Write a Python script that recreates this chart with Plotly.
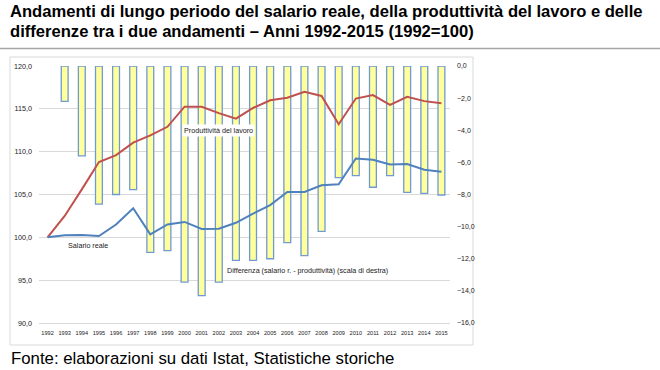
import plotly.graph_objects as go

years = [str(y) for y in range(1992, 2016)]
salario_reale = [100.0, 100.23, 100.27, 100.15, 101.5, 103.4, 100.35, 101.5, 101.8, 100.97,
                 101.0, 101.7, 102.77, 103.77, 105.3, 105.3, 106.07, 106.2, 109.2, 109.05,
                 108.5, 108.55, 107.9, 107.65]
produttivita = [100.0, 102.5, 105.6, 108.8, 109.6, 111.05, 111.9, 112.9, 115.25, 115.25,
                114.5, 113.85, 115.1, 116.0, 116.3, 117.0, 116.5, 113.2, 116.2, 116.6,
                115.45, 116.4, 115.9, 115.65]
differenza = [0.0, -2.2, -5.6, -8.6, -8.0, -7.7, -11.6, -11.5, -13.45, -14.3,
              -13.45, -12.1, -12.1, -12.0, -11.0, -11.8, -10.3, -6.95, -6.83, -7.55,
              -6.83, -7.87, -7.93, -8.03]
left_ticks = [90, 95, 100, 105, 110, 115, 120]
right_ticks = [-16, -14, -12, -10, -8, -6, -4, -2, 0]

FONT = "Liberation Sans, Arial, sans-serif"

fig = go.Figure()
fig.add_trace(go.Bar(
    x=years, y=differenza, yaxis="y",
    marker=dict(color="#FFFF9E",
                line=dict(color="#6F9AD2", width=[0 if v == 0 else 1.3 for v in differenza])),
    name="Differenza", showlegend=False,
))
fig.add_trace(go.Scatter(
    x=years, y=produttivita, yaxis="y2", mode="lines",
    line=dict(color="#C0504D", width=2), name="Produttività del lavoro", showlegend=False,
))
fig.add_trace(go.Scatter(
    x=years, y=salario_reale, yaxis="y2", mode="lines",
    line=dict(color="#4F81BD", width=2), name="Salario reale", showlegend=False,
))

W, H = 660, 370
pw, ph = 411, 257
L, T = 39, 66  # plot area origin in window pixels


def px(x):
    return (x - L) / pw


def py(y):
    return (T + ph - y) / ph


fig.update_layout(
    width=W, height=H,
    margin=dict(l=L, r=W - L - pw, t=T, b=H - T - ph, pad=0),
    paper_bgcolor="white", plot_bgcolor="white",
    separators=",.",
    bargap=0.6,
    font=dict(family=FONT, color="#262626"),
    xaxis=dict(type="category", showgrid=False, showline=True, linecolor="#D9D9D9", linewidth=1,
               ticks="", tickfont=dict(size=5.6, color="#1a1a1a"), ticklabelstandoff=4),
    yaxis=dict(side="right", range=[-16, 0], tickvals=right_ticks, tickformat=".1f",
               showgrid=False, zeroline=False, showline=False, ticks="",
               tickfont=dict(size=7, color="#1a1a1a"), ticklabelstandoff=6),
    yaxis2=dict(overlaying="y", side="left", range=[90, 120], tickvals=left_ticks, tickformat=".1f",
                showgrid=True, gridcolor="#D9D9D9", gridwidth=1, zeroline=False, showline=False,
                ticks="", tickfont=dict(size=7.2, color="#1a1a1a"), ticklabelstandoff=6),
    shapes=[
        dict(type="rect", xref="paper", yref="paper", x0=px(10), x1=px(473), y0=py(345), y1=py(57),
             line=dict(color="#D9D9D9", width=1), fillcolor="rgba(0,0,0,0)", layer="below"),
        dict(type="line", xref="paper", yref="paper", x0=px(0), x1=px(660), y0=py(48.5), y1=py(48.5),
             line=dict(color="#A6A6A6", width=1.5)),
    ],
    annotations=[
        dict(text="<b>Andamenti di lungo periodo del salario reale, della produttività del lavoro e delle</b>",
             xref="paper", yref="paper", x=px(8), y=py(11.5), xanchor="left", yanchor="middle",
             align="left", showarrow=False, font=dict(size=16.6, color="#000000", family=FONT)),
        dict(text="<b>differenze tra i due andamenti – Anni 1992-2015 (1992=100)</b>",
             xref="paper", yref="paper", x=px(8), y=py(31.5), xanchor="left", yanchor="middle",
             align="left", showarrow=False, font=dict(size=16.6, color="#000000", family=FONT)),
        dict(text="Fonte: elaborazioni su dati Istat, Statistiche storiche",
             xref="paper", yref="paper", x=px(9), y=py(358), xanchor="left", yanchor="middle",
             showarrow=False, font=dict(size=16.8, color="#000000", family=FONT)),
        dict(text="Produttività del lavoro", xref="x", yref="y2", x=10, y=112.5,
             showarrow=False, bgcolor="white", font=dict(size=7.2, color="#1a1a1a"), borderpad=1),
        dict(text="Salario reale", xref="x", yref="y2", x=2.35, y=99.07,
             showarrow=False, bgcolor="white", font=dict(size=7.2, color="#1a1a1a"), borderpad=1),
        dict(text="Differenza (salario r. - produttività) (scala di destra)", xref="x", yref="y2",
             x=15.17, y=96.15, showarrow=False, bgcolor="white",
             font=dict(size=7.2, color="#1a1a1a"), borderpad=1),
    ],
)

# remove the browser's default 8px body margin so the figure sits at the window's top-left
fig.write_html("out.html",
               config={"displayModeBar": False},
               post_script="document.body.style.margin='0';document.body.style.padding='0';")
